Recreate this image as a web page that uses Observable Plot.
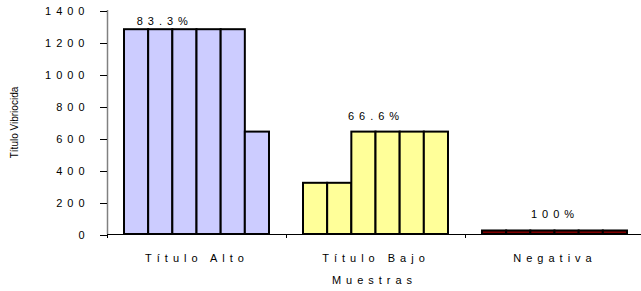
<!DOCTYPE html>
<html>
<head>
<meta charset="utf-8">
<script src="https://cdn.jsdelivr.net/npm/d3@7"></script>
<script src="https://cdn.jsdelivr.net/npm/@observablehq/plot@0.6"></script>
<style>
  html, body { margin: 0; padding: 0; background: #fff; }
  #chart svg { font-family: "Liberation Sans", Arial, sans-serif; letter-spacing: 5px; }
</style>
</head>
<body>
<div id="chart"></div>
<script>
// ---- data ----
const groups = ["Título Alto", "Título Bajo", "Negativa"];
const altoValues = [1280, 1280, 1280, 1280, 1280, 640];
const bajoValues = [320, 320, 640, 640, 640, 640];
const negativaValues = [22, 22, 22, 22, 22, 22];
const groupColors = ["#CCCCFF", "#FFFF99", "#800000"];
const yTicks = [0, 200, 400, 600, 800, 1000, 1200, 1400];
const pctLabels = ["83.3%", "66.6%", "100%"];
const pctX = [0.32, 1.5, 2.5];
const pctY = [1331, 740, 125];
const yTitle = "Título Vibriocida";
const xTitle = "Muestras";

// ---- build table ----
const seriesByGroup = [altoValues, bajoValues, negativaValues];
const barFrac = 0.135;
const padFrac = (1 - 6 * barFrac) / 2;
const bars = [];
seriesByGroup.forEach((vals, g) => {
  vals.forEach((v, j) => {
    bars.push({group: groups[g], g, j, value: v,
      x1: g + padFrac + j * barFrac, x2: g + padFrac + (j + 1) * barFrac});
  });
});
const labels = pctLabels.map((t, i) => ({text: t, x: pctX[i], y: pctY[i]}));

const chart = Plot.plot({
  width: 641,
  height: 291,
  marginLeft: 107,
  marginRight: 0,
  marginTop: 10,
  marginBottom: 57,
  style: {background: "#fff", color: "#000", fontSize: "11px"},
  x: {domain: [0, 3], range: [107, 644]},
  y: {domain: [0, 1400]},
  color: {domain: groups, range: groupColors},
  marks: [
    Plot.rectY(bars, {x1: "x1", x2: "x2", y: "value", fill: "group", stroke: "#000", strokeWidth: 2, inset: 0}),
    Plot.ruleX([0], {stroke: "#808080", strokeWidth: 1.5}),
    Plot.ruleY([0], {stroke: "#000", strokeWidth: 1}),
    Plot.axisY({ticks: yTicks, tickSize: 7, tickPadding: 11, fontSize: 11, label: null, tickFormat: d => String(d), dy: 1}),
    Plot.axisX({ticks: [0, 1, 2, 3], tickSize: 4, tickFormat: () => "", label: null}),
    Plot.axisX({ticks: [0.5, 1.5, 2.5], tickSize: 0, tickPadding: 20, fontSize: 11,
      tickFormat: d => groups[Math.floor(d)], label: null}),
    Plot.text([xTitle], {frameAnchor: "bottom", text: d => d, dy: 49, fontSize: 11}),
    Plot.text([yTitle], {frameAnchor: "left", textAnchor: "middle", text: d => d, rotate: -90, dx: -93, fontSize: 10}),
    Plot.text(labels, {x: "x", y: "y", text: "text", fontSize: 11})
  ]
});
// the y-axis title is drawn without letter spacing
d3.select(chart).selectAll("text").filter(function() { return this.textContent === yTitle; })
  .style("letter-spacing", "0px");
document.getElementById("chart").appendChild(chart);
</script>
</body>
</html>
